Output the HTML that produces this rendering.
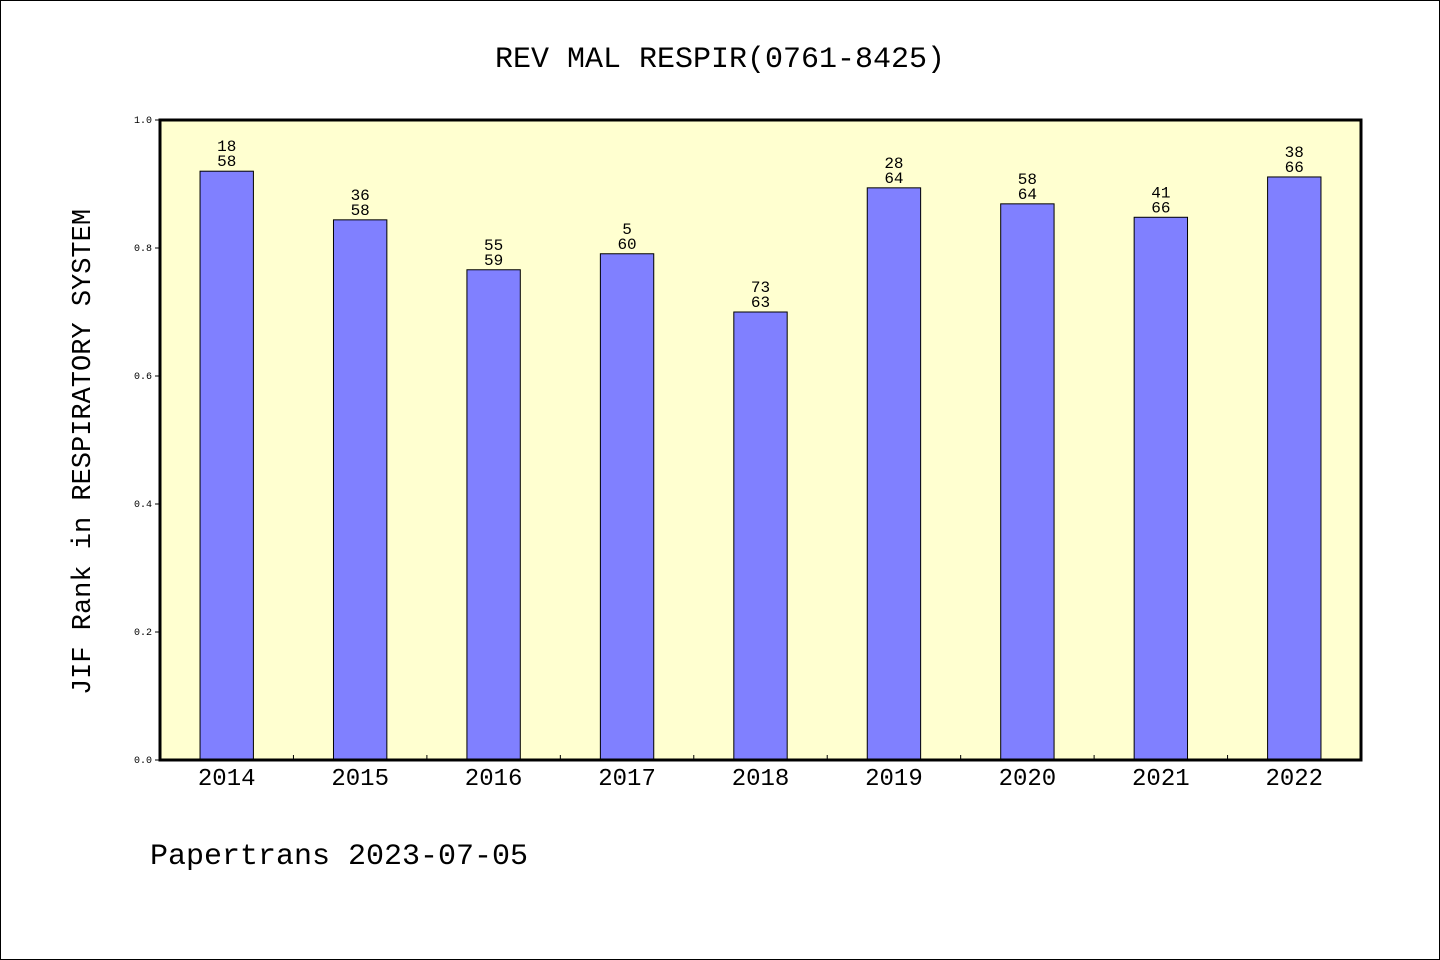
<!DOCTYPE html>
<html><head><meta charset="utf-8"><style>
html,body{margin:0;padding:0;background:#fff}
svg{display:block}
text{font-family:"Liberation Mono","WenQuanYi Zen Hei",monospace;fill:#000}
</style></head><body>
<svg id="chart" width="1440" height="960" viewBox="0 0 1440 960" xmlns="http://www.w3.org/2000/svg">
<rect x="0.5" y="0.5" width="1439" height="959" fill="#fff" stroke="#000" stroke-width="1"/>
<text x="720" y="67" font-size="30" text-anchor="middle">REV MAL RESPIR(0761-8425)</text>
<rect x="160" y="120" width="1201" height="640" fill="#ffffd0"/>
<g id="ticks"></g>
<g id="bars"></g>
<rect x="160" y="120" width="1201" height="640" fill="none" stroke="#000" stroke-width="3"/>
<text transform="translate(90,452) rotate(-90)" font-size="27" text-anchor="middle">JIF Rank in RESPIRATORY SYSTEM</text>
<text x="150" y="864" font-size="30">Papertrans 2023-07-05</text>
</svg>
<script>
const years = ["2014","2015","2016","2017","2018","2019","2020","2021","2022"];
const values = [0.920,0.844,0.766,0.791,0.700,0.894,0.869,0.848,0.911];
const ranks = ["18","36","55","5","73","28","58","41","38"];
const totals = ["58","58","59","60","63","64","64","66","66"];
const yTicks = ["0.0","0.2","0.4","0.6","0.8","1.0"];
const NS="http://www.w3.org/2000/svg";
const X0=160,X1=1361,Y0=760,Y1=120;
const band=(X1-X0)/years.length;
const xc=i=>X0+band*(i+0.5);
const y=v=>Y0-(Y0-Y1)*v;
function mk(tag,attrs,parent){const e=document.createElementNS(NS,tag);for(const k in attrs)e.setAttribute(k,attrs[k]);parent.appendChild(e);return e;}
const bg=document.getElementById('bars'),tg=document.getElementById('ticks');
yTicks.forEach(t=>{
  const v=parseFloat(t);
  const l=mk('line',{x1:X0-5,x2:X0,y1:y(v),y2:y(v),stroke:'#000','stroke-width':1},tg);
  
  
  const tx=mk('text',{x:X0-8,y:y(v)+3,'font-size':10,'text-anchor':'end'},tg);
  tx.textContent=t;
  
  
});
for(let i=1;i<years.length;i++){
  const l=mk('line',{x1:X0+band*i,x2:X0+band*i,y1:Y0,y2:Y0-5,stroke:'#000','stroke-width':1},tg);
  
  
}
const bw=band*0.4;
years.forEach((yr,i)=>{
  const r=mk('rect',{x:xc(i)-bw/2,y:y(values[i]),width:bw,height:Y0-y(values[i]),fill:'#8080ff',stroke:'#000','stroke-width':1},bg);
  
  
  const t1=mk('text',{x:xc(i),y:y(values[i])-20,'font-size':16,'text-anchor':'middle'},bg);
  t1.textContent=ranks[i];
  
  
  const t2=mk('text',{x:xc(i),y:y(values[i])-5,'font-size':16,'text-anchor':'middle'},bg);
  t2.textContent=totals[i];
  
  
  const xl=mk('text',{x:xc(i),y:785,'font-size':24,'text-anchor':'middle'},bg);
  xl.textContent=yr;
  
  
});
</script>
</body></html>
